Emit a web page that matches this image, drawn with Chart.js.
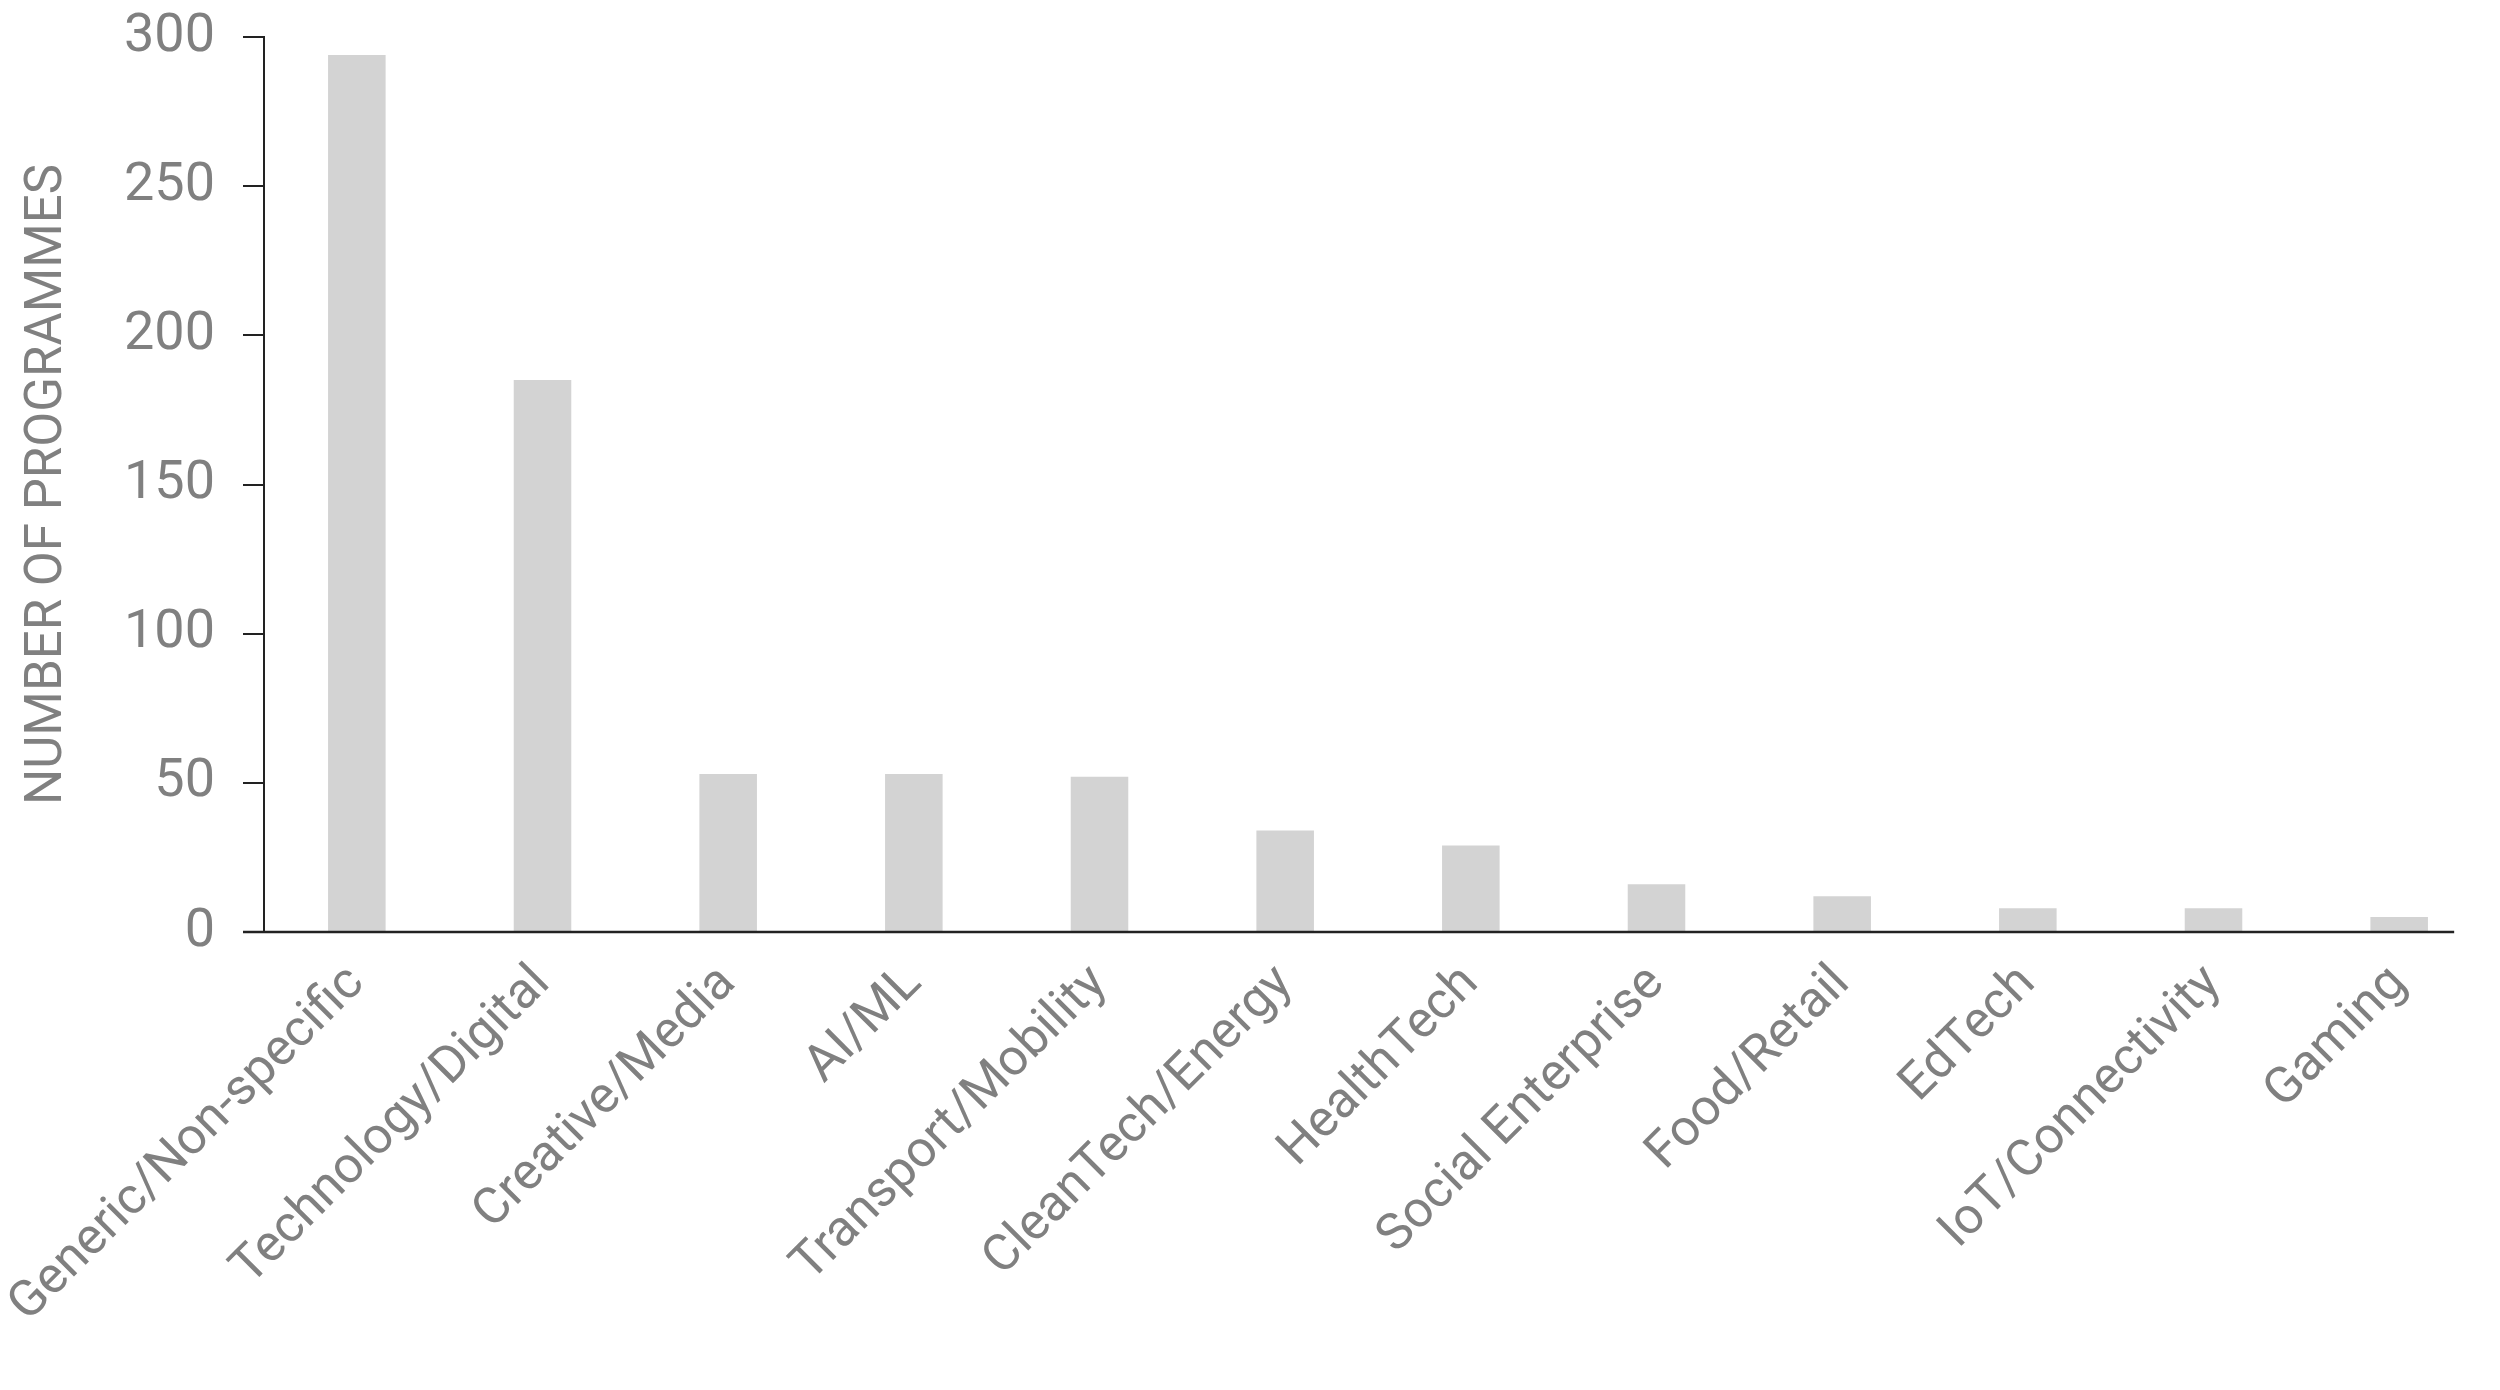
<!DOCTYPE html>
<html>
<head>
<meta charset="utf-8">
<script src="https://cdn.jsdelivr.net/npm/chart.js@4.4.1/dist/chart.umd.min.js"></script>
<style>
  html, body { margin: 0; padding: 0; background: #fff; }
  #wrap { width: 2500px; height: 1390px; position: relative; }
</style>
</head>
<body>
<div id="wrap"><canvas id="chart"></canvas></div>
<script>
const categories = ['Generic/Non-specific', 'Technology/Digital', 'Creative/Media', 'AI/ML',
    'Transport/Mobility', 'CleanTech/Energy', 'HealthTech', 'Social Enterprise',
    'Food/Retail', 'EdTech', 'IoT/Connectivity', 'Gaming'];
const programmes = [294, 185, 53, 53, 52, 34, 29, 16, 12, 8, 8, 5];
const yTicks = [0, 50, 100, 150, 200, 250, 300];

const textGray = '#808080';
const fontName = 'Roboto, sans-serif';

// x axis line runs a bit left of the y axis and stops short of the canvas edge
const baseline = {
    id: 'baseline',
    afterDraw(chart) {
        const x = chart.scales.x, y = chart.scales.y;
        const ctx = chart.ctx;
        const y0 = y.getPixelForValue(0);
        ctx.save();
        ctx.strokeStyle = '#222';
        ctx.lineWidth = 2.5;
        ctx.beginPath();
        ctx.moveTo(x.left - 21, y0);
        ctx.lineTo(x.getPixelForValue(categories.length - 1) + 55, y0);
        ctx.stroke();
        ctx.restore();
    }
};

const ctx = document.getElementById('chart').getContext('2d');
new Chart(ctx, {
    type: 'bar',
    data: {
        labels: categories,
        datasets: [{
            data: programmes,
            backgroundColor: '#d3d3d3',
            borderWidth: 0,
            barPercentage: 0.62,
            categoryPercentage: 0.5
        }]
    },
    options: {
        responsive: true,
        maintainAspectRatio: false,
        animation: false,
        layout: { padding: { top: 37, right: 8, left: 0, bottom: 0 } },
        plugins: {
            legend: { display: false },
            tooltip: { enabled: false }
        },
        scales: {
            x: {
                grid: { display: false },
                border: { display: false },
                ticks: {
                    color: textGray,
                    font: { family: fontName, size: 51 },
                    maxRotation: 45,
                    minRotation: 45,
                    padding: 14
                },
                afterFit(scale) {
                    scale.height = 458;
                    scale.paddingLeft = 0;
                    scale.paddingRight = 0;
                }
            },
            y: {
                min: 0,
                max: 300,
                afterBuildTicks(scale) { scale.ticks = yTicks.map(v => ({ value: v })); },
                grid: {
                    drawOnChartArea: false,
                    drawTicks: true,
                    tickLength: 21,
                    color: '#222',
                    lineWidth: 2
                },
                border: { display: true, color: '#222', width: 2 },
                ticks: {
                    color: textGray,
                    font: { family: fontName, size: 54 },
                    padding: 28
                },
                title: {
                    display: true,
                    text: 'NUMBER OF PROGRAMMES',
                    color: textGray,
                    font: { family: fontName, size: 51, lineHeight: 1 },
                    padding: { top: 23, bottom: 0 }
                },
                afterFit(scale) {
                    scale.width = 264;
                    scale.paddingTop = 0;
                    scale.paddingBottom = 0;
                }
            }
        }
    },
    plugins: [baseline]
});
</script>
</body>
</html>
